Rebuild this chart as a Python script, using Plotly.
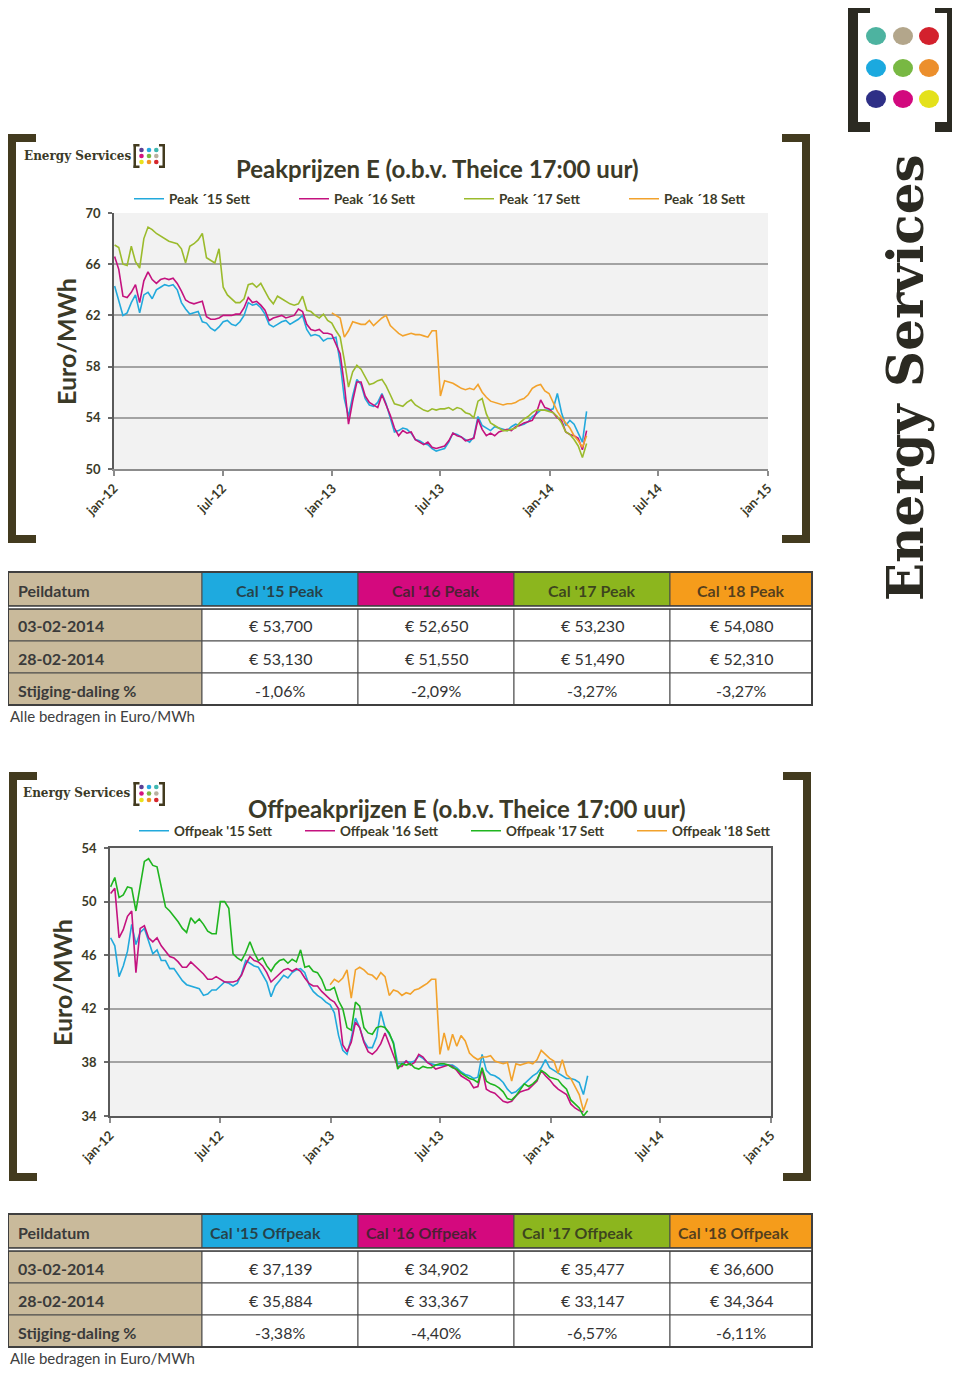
import pandas as pd
import plotly.graph_objects as go

# the page shows the figure with an 8 px body margin, so the figure is 8 px
# smaller and positions are measured from the page's top-left corner
OFF = 8
W, H = 960 - OFF, 1373 - OFF


def px(x):
    return (x - OFF) / W


def py(y):
    return 1 - (y - OFF) / H


# ---------------- DATA ----------------
# weekly settlement prices (Euro/MWh)
PEAK_START = "2012-01-02"
PEAK18_START = "2012-12-31"

peak15 = [
    64.3, 63.2, 62.0, 62.2, 63.0, 63.6, 62.2, 63.6, 63.8, 63.3,
    64.0, 64.2, 64.4, 64.3, 64.4, 64.0, 63.0, 62.5, 62.1, 62.2,
    62.3, 61.5, 61.4, 61.0, 60.8, 61.1, 61.5, 61.6, 61.3, 61.2,
    61.5, 62.0, 63.0, 62.8, 62.9, 62.6, 62.1, 61.3, 61.1, 61.3,
    61.5, 61.6, 61.3, 61.5, 61.7, 62.0, 60.9, 60.4, 60.5, 60.4,
    60.0, 60.2, 60.2, 60.3, 58.3, 55.5, 54.1, 55.7, 57.0, 56.6,
    55.5, 55.0, 54.9, 55.2, 55.9, 55.1, 54.0, 52.9, 53.0, 53.2,
    53.1, 52.8, 52.3, 52.2, 52.0, 51.9, 51.6, 51.4, 51.5, 51.6,
    52.1, 52.8, 52.7, 52.5, 52.3, 52.1, 52.5, 54.1, 53.4, 53.2,
    53.0, 53.3, 53.2, 53.1, 53.0, 53.3, 53.5, 53.4, 53.5, 53.7,
    54.1, 54.3, 54.6, 54.6, 54.6, 54.7, 55.9, 54.4, 53.4, 53.8,
    53.5, 52.8, 52.1, 54.5,
]
peak16 = [
    66.6, 65.6, 63.5, 63.4, 63.8, 64.4, 63.0, 64.7, 65.4, 64.8,
    64.5, 64.8, 64.9, 64.8, 64.9, 64.5, 63.9, 63.2, 63.0, 62.9,
    63.0, 63.1, 61.9, 61.7, 61.7, 61.8, 62.0, 62.0, 62.0, 62.1,
    62.1, 62.6, 63.4, 63.0, 63.1, 62.8, 62.4, 61.6, 61.8, 61.9,
    62.0, 61.8, 61.9, 62.0, 62.5, 62.3, 61.3, 60.9, 60.8, 60.9,
    60.6, 60.6, 60.5, 59.7, 59.0, 56.6, 53.5, 55.3, 56.8, 56.8,
    55.7, 55.2, 55.0, 54.8, 55.8, 55.0, 54.2, 53.2, 52.6, 53.0,
    52.8, 52.9, 52.3, 52.1, 51.9, 52.1, 51.7, 51.6, 51.7, 51.8,
    52.2, 52.8, 52.6, 52.5, 52.2, 52.3, 52.4, 53.9, 53.1, 52.6,
    52.8, 52.6, 52.9, 53.0, 53.1, 53.0, 53.3, 53.4, 53.6, 53.7,
    53.8, 54.4, 55.4, 54.8, 54.7, 54.4, 54.0, 53.8, 52.9, 52.7,
    52.6, 52.4, 51.5, 53.0,
]
peak17 = [
    67.5, 67.3, 66.0, 65.9, 67.4, 66.2, 65.7, 68.0, 68.9, 68.7,
    68.4, 68.2, 68.0, 67.8, 67.7, 67.6, 67.2, 66.1, 67.4, 67.6,
    67.9, 68.4, 66.5, 66.3, 66.1, 67.2, 64.2, 63.6, 63.3, 63.0,
    63.0, 63.3, 64.4, 64.5, 64.2, 64.5, 63.9, 63.3, 62.9, 63.5,
    63.3, 63.1, 62.9, 62.8, 62.9, 63.5, 62.4, 62.3, 62.0, 61.8,
    62.1, 61.6, 61.4, 60.8, 60.3, 58.5, 56.4, 57.6, 58.1, 57.8,
    57.2, 56.6, 56.7, 56.9, 57.0, 56.5, 55.8, 55.1, 55.0, 54.9,
    55.2, 55.4, 55.0, 54.8, 54.6, 54.5, 54.7, 54.6, 54.7, 54.7,
    54.8, 54.6, 54.8, 54.7, 54.4, 54.3, 54.0, 55.3, 55.5, 54.3,
    53.6, 53.4, 53.2, 53.0, 53.0, 53.1, 53.2, 53.6, 53.9, 54.1,
    54.4, 54.6, 54.6, 54.6, 54.5, 54.4, 54.1, 53.6, 52.9, 52.7,
    52.3, 51.8, 50.9, 52.0,
]
peak18 = [
    62.2, 62.0, 61.8, 60.3, 60.8, 61.5, 61.4, 61.3,
    61.3, 61.6, 61.2, 61.5, 61.8, 62.0, 61.2, 60.9, 60.6, 60.4,
    60.5, 60.6, 60.5, 60.5, 60.4, 60.3, 60.8, 60.8, 55.7, 56.9,
    56.8, 56.7, 56.5, 56.3, 56.2, 56.3, 56.2, 56.6, 56.0, 55.6,
    55.3, 55.2, 55.1, 55.0, 55.1, 55.1, 55.2, 55.4, 55.5, 55.8,
    56.3, 56.5, 56.6, 56.1, 55.9, 55.2, 54.5, 54.0, 53.6, 53.2,
    52.6, 52.2, 51.7, 52.6,
]

off15 = [
    47.3, 46.7, 44.4, 45.2, 46.3, 48.3, 46.8, 47.7, 48.0, 47.0,
    46.1, 46.4, 45.6, 45.6, 45.0, 45.0, 44.5, 44.1, 43.8, 43.7,
    43.6, 43.5, 43.0, 43.1, 43.4, 43.4, 43.7, 44.0, 43.9, 43.7,
    43.9, 44.6, 45.6, 45.4, 45.2, 45.1, 44.6, 44.0, 42.9, 43.7,
    44.1, 44.5, 44.3, 44.7, 44.9, 45.0, 44.7, 43.8, 43.3, 43.0,
    42.8, 42.5, 42.3, 41.7, 40.0, 38.9, 38.6, 39.8, 41.3, 40.6,
    39.6, 39.1, 39.1, 39.9, 41.8, 40.6, 40.1, 39.5, 37.9, 37.9,
    38.1, 38.0, 38.1, 38.5, 38.3, 38.0, 37.9, 37.8, 37.8, 37.8,
    37.8, 37.8, 37.6, 37.3, 37.1, 37.0, 36.8, 36.9, 38.6, 37.4,
    37.1, 37.0, 36.8, 36.5, 36.0, 35.7, 35.8, 36.1, 36.4, 36.7,
    37.0, 37.2, 37.6, 38.2, 37.6, 37.4, 37.2, 37.0, 36.8, 36.8,
    36.7, 36.5, 35.6, 37.0,
]
off16 = [
    50.6, 51.0, 47.3, 47.9, 48.9, 49.3, 44.7, 48.0, 48.2, 47.3,
    47.0, 47.3, 46.7, 46.3, 45.9, 45.8, 45.5, 45.1, 45.1, 45.5,
    45.2, 44.9, 44.6, 44.2, 44.2, 44.4, 44.2, 44.0, 44.0, 44.0,
    44.1, 44.5, 45.3, 45.9, 45.6, 45.5, 45.2, 44.7, 44.0, 44.3,
    44.6, 44.9, 45.0, 44.8, 45.0, 44.8, 44.3, 43.9, 43.7, 43.7,
    43.3, 43.0, 42.7, 42.5, 42.0, 39.3, 38.8, 39.5, 41.0, 40.6,
    39.5, 38.8, 38.6, 38.9, 39.4, 40.2, 39.4, 38.6, 37.7, 37.7,
    38.1, 37.8, 38.0, 38.6, 38.4, 38.0, 37.8, 37.5, 37.6, 37.7,
    37.8, 37.7, 37.4, 37.0, 36.8, 36.6, 36.1, 36.2, 37.5, 36.0,
    35.8, 35.7, 35.4, 35.1, 35.0, 35.1, 35.5, 35.8, 35.9, 36.0,
    36.3, 36.6, 37.4, 37.0, 36.7, 36.3, 36.0, 35.8, 35.6, 34.9,
    34.6, 34.4, 34.3,
]
off17 = [
    51.1, 51.8, 50.3, 50.5, 51.1, 51.0, 49.3, 51.0, 53.0, 53.2,
    52.7, 52.6, 51.0, 49.6, 49.3, 48.9, 48.5, 48.0, 47.7, 48.8,
    48.4, 48.7, 48.3, 47.8, 47.6, 47.6, 50.0, 50.0, 49.5, 46.1,
    45.8, 45.6, 46.2, 47.0, 46.2, 45.6, 45.8, 45.2, 44.8, 45.3,
    45.6, 45.7, 45.4, 45.7, 45.5, 46.4, 45.1, 45.2, 44.8, 44.7,
    44.2, 43.4, 43.4, 43.6, 42.6, 42.0, 40.6, 40.4, 42.5, 42.2,
    40.6, 40.2, 40.1, 40.6, 40.7, 40.6, 40.2, 39.4, 37.5, 37.9,
    37.8, 37.9, 37.6, 37.5, 37.7, 37.6, 37.6, 37.8, 37.9, 37.9,
    37.8, 37.6, 37.5, 37.2, 37.0, 36.8, 36.7, 36.5, 37.6, 36.6,
    36.4, 36.3, 36.1, 35.8, 35.3, 35.2, 35.5, 36.0, 36.4, 36.2,
    36.4, 36.7, 37.4, 37.2, 36.9, 36.8, 36.7, 36.3, 36.0, 35.2,
    34.9, 34.6, 34.0, 34.4,
]
off18 = [
    43.8, 44.2, 44.0, 44.3, 44.9, 42.8, 44.9, 45.1,
    44.9, 44.6, 44.5, 44.2, 44.7, 44.4, 43.0, 43.4, 43.3, 43.0,
    43.2, 43.1, 43.4, 43.5, 43.7, 43.9, 44.2, 44.2, 38.6, 40.2,
    38.9, 40.1, 39.2, 40.0, 39.6, 38.7, 38.4, 38.2, 38.4, 38.4,
    38.5, 38.1, 38.0, 37.9, 38.0, 36.6, 37.9, 37.8, 37.9, 38.0,
    37.9, 38.2, 38.9, 38.6, 38.3, 38.1, 37.2, 38.2, 37.1, 36.8,
    36.2, 35.6, 34.4, 35.3,
]

peak_names = ["Peak ´15 Sett", "Peak ´16 Sett", "Peak ´17 Sett", "Peak ´18 Sett"]
off_names = ["Offpeak '15 Sett", "Offpeak '16 Sett", "Offpeak '17 Sett", "Offpeak '18 Sett"]

x_tick_dates = ["2012-01-01", "2012-07-01", "2013-01-01", "2013-07-01",
                "2014-01-01", "2014-07-01", "2015-01-01"]
x_tick_labels = ["jan-12", "jul-12", "jan-13", "jul-13", "jan-14", "jul-14", "jan-15"]
peak_y_ticks = [50, 54, 58, 62, 66, 70]
off_y_ticks = [34, 38, 42, 46, 50, 54]

table_rows = ["03-02-2014", "28-02-2014", "Stijging-daling %"]
peak_headers = ["Cal '15 Peak", "Cal '16 Peak", "Cal '17 Peak", "Cal '18 Peak"]
peak_row1 = ["€ 53,700", "€ 52,650", "€ 53,230", "€ 54,080"]
peak_row2 = ["€ 53,130", "€ 51,550", "€ 51,490", "€ 52,310"]
peak_row3 = ["-1,06%", "-2,09%", "-3,27%", "-3,27%"]
off_headers = ["Cal '15 Offpeak", "Cal '16 Offpeak", "Cal '17 Offpeak", "Cal '18 Offpeak"]
off_row1 = ["€ 37,139", "€ 34,902", "€ 35,477", "€ 36,600"]
off_row2 = ["€ 35,884", "€ 33,367", "€ 33,147", "€ 34,364"]
off_row3 = ["-3,38%", "-4,40%", "-6,57%", "-6,11%"]

# ---------------- STYLE ----------------
DARK = "#3b3a28"
BRACKET = "#433b1f"
peak_colors = ["#22a9dc", "#c4127f", "#9bbb2c", "#f2a22c"]
off_colors = ["#22a9dc", "#c4127f", "#1fb51f", "#f2a22c"]
header_fills = ["#1eaadf", "#d4097e", "#8cb61e", "#f59c1b"]
TAN = "#c9ba9b"
FONT = "Lato"

fig = go.Figure()

peak_data = [(peak15, PEAK_START), (peak16, PEAK_START), (peak17, PEAK_START), (peak18, PEAK18_START)]
for (vals, start), name, color in zip(peak_data, peak_names, peak_colors):
    fig.add_trace(go.Scatter(
        x=pd.date_range(start, periods=len(vals), freq="7D"), y=vals, name=name,
        mode="lines", line=dict(color=color, width=1.6), xaxis="x", yaxis="y",
        legend="legend", hoverinfo="skip"))

off_data = [(off15, PEAK_START), (off16, PEAK_START), (off17, PEAK_START), (off18, PEAK18_START)]
for (vals, start), name, color in zip(off_data, off_names, off_colors):
    fig.add_trace(go.Scatter(
        x=pd.date_range(start, periods=len(vals), freq="7D"), y=vals, name=name,
        mode="lines", line=dict(color=color, width=1.6), xaxis="x2", yaxis="y2",
        legend="legend2", hoverinfo="skip"))

tickfont = dict(family=FONT, size=13, color=DARK, weight="bold")


def xaxis_cfg(x0, x1, anchor, mirror):
    return dict(domain=[px(x0), px(x1)], anchor=anchor, type="date",
                range=["2012-01-01", "2015-01-01"], tickvals=x_tick_dates,
                ticktext=x_tick_labels, tickangle=-45, ticks="outside", ticklen=5,
                tickcolor="#8c8c8c", tickwidth=1.5, showline=True,
                linecolor="#5a5a5a" if mirror else "#8c8c8c", linewidth=1.5,
                mirror=mirror, showgrid=False, zeroline=False, tickfont=tickfont,
                automargin=False)


def yaxis_cfg(y_top, y_bot, anchor, rng, ticks, mirror):
    return dict(domain=[py(y_bot), py(y_top)], anchor=anchor, range=rng, tickvals=ticks,
                ticks="outside", ticklen=4, tickcolor="#6a6a6a", tickwidth=1.5,
                showline=True, linecolor="#5a5a5a", linewidth=1.5, mirror=mirror,
                showgrid=True, gridcolor="#a3a3a3", gridwidth=1.5, zeroline=False,
                tickfont=tickfont, automargin=False, ticklabelstandoff=5)


legend_font = dict(family=FONT, size=13.5, color=DARK, weight="bold")

fig.update_layout(
    width=W, height=H, margin=dict(l=0, r=0, t=0, b=0, autoexpand=False),
    paper_bgcolor="white", plot_bgcolor="#f2f2f2",
    xaxis=xaxis_cfg(114, 768, "y", False),
    yaxis=yaxis_cfg(213, 469, "x", [50, 70], peak_y_ticks, False),
    xaxis2=xaxis_cfg(110, 771, "y2", True),
    yaxis2=yaxis_cfg(848, 1116, "x2", [34, 54], off_y_ticks, True),
    legend=dict(orientation="h", x=px(129), y=py(199), xanchor="left", yanchor="middle",
                entrywidth=120, entrywidthmode="pixels", font=legend_font,
                bgcolor="rgba(0,0,0,0)", itemclick=False),
    legend2=dict(orientation="h", x=px(134), y=py(831), xanchor="left", yanchor="middle",
                 entrywidth=121, entrywidthmode="pixels", font=legend_font,
                 bgcolor="rgba(0,0,0,0)", itemclick=False),
)

shapes = []
annotations = []


def rect(x0, y0, x1, y1, fill, line_color=None, lw=0):
    shapes.append(dict(type="rect", xref="paper", yref="paper",
                       x0=px(x0), x1=px(x1), y0=py(y1), y1=py(y0),
                       fillcolor=fill, line=dict(color=line_color or fill, width=lw),
                       layer="above"))


def text(x, y, s, size, color=DARK, bold=False, family=FONT, xanchor="center",
         yanchor="middle", angle=0):
    annotations.append(dict(xref="paper", yref="paper", x=px(x), y=py(y), text=s,
                            showarrow=False, xanchor=xanchor, yanchor=yanchor,
                            textangle=angle,
                            font=dict(family=family, size=size, color=color,
                                      weight="bold" if bold else "normal")))


def bracket_pair(left, right, top, bot, t, arm):
    rect(left, top, left + t, bot, BRACKET)
    rect(left, top, left + arm, top + t, BRACKET)
    rect(left, bot - t, left + arm, bot, BRACKET)
    rect(right - t, top, right, bot, BRACKET)
    rect(right - arm, top, right, top + t, BRACKET)
    rect(right - arm, bot - t, right, bot, BRACKET)


def dot(cx, cy, rx, ry, color):
    shapes.append(dict(type="circle", xref="paper", yref="paper",
                       x0=px(cx - rx), x1=px(cx + rx), y0=py(cy + ry), y1=py(cy - ry),
                       fillcolor=color, line=dict(width=0), layer="above"))


small_dot_colors = [["#5b3f95", "#26a9e0", "#3fb8b0"],
                    ["#d4127e", "#7ab843", "#b9b1a0"],
                    ["#e9e21c", "#f39324", "#d6262c"]]


def small_logo(x_text, y_text, x0, y0, y1, dot_xs, dot_ys):
    text(x_text, y_text, "Energy Services", 12, color=DARK, bold=True,
         family="DejaVu Serif", xanchor="left")
    rect(x0, y0, x0 + 2.5, y1, BRACKET)
    rect(x0, y0, x0 + 6, y0 + 2.5, BRACKET)
    rect(x0, y1 - 2.5, x0 + 6, y1, BRACKET)
    rect(x0 + 29, y0, x0 + 31.5, y1, BRACKET)
    rect(x0 + 25.5, y0, x0 + 31.5, y0 + 2.5, BRACKET)
    rect(x0 + 25.5, y1 - 2.5, x0 + 31.5, y1, BRACKET)
    for r, yy in enumerate(dot_ys):
        for c, xx in enumerate(dot_xs):
            dot(xx, yy, 2.3, 2.3, small_dot_colors[r][c])


# ---- chart 1 decorations ----
bracket_pair(8, 810, 134, 543, 8, 28)
small_logo(22, 156, 133.5, 144, 168, [141.5, 149, 156.3], [150, 156, 162])
text(437, 168, "Peakprijzen E (o.b.v. Theice 17:00 uur)", 24, bold=True)
text(66, 342, "Euro/MWh", 25, bold=True, angle=-90)

# ---- chart 2 decorations ----
bracket_pair(9, 811, 772, 1181, 8, 28)
small_logo(21, 793, 133.5, 782, 806, [141.5, 149, 156.3], [787, 793.5, 800])
text(467, 808, "Offpeakprijzen E (o.b.v. Theice 17:00 uur)", 24, bold=True)
text(62, 983, "Euro/MWh", 25, bold=True, angle=-90)

# ---- big logo top-right ----
rect(848, 3, 858, 132, "#2b2a22")
rect(848, 3, 870, 13, "#2b2a22")
rect(848, 122, 870, 132, "#2b2a22")
rect(947, 3, 957, 132, "#2b2a22")
rect(935, 3, 957, 13, "#2b2a22")
rect(935, 122, 957, 132, "#2b2a22")
big_dot_colors = [["#4db3a0", "#b3a68b", "#d3212d"],
                  ["#1ba9df", "#78b843", "#ec8f2c"],
                  ["#2e2f86", "#d2097e", "#e4e11b"]]
for r, yy in enumerate([36, 68, 99]):
    for c, xx in enumerate([876, 903, 929]):
        dot(xx, yy, 10, 9, big_dot_colors[r][c])
text(906, 378, "Energy Services", 50, color="#2b2a22", bold=True,
     family="DejaVu Serif", angle=-90)


# ---- tables ----
col_edges = [8, 202, 358, 514, 670, 812]
HEADER_TXT = "rgba(40,38,30,0.78)"


def draw_table(top, headers, rows_vals, header_align):
    h_top, h_bot = top, top + 34
    r_edges = [top + 37, top + 69, top + 101, top + 133]
    rect(col_edges[0], h_top, col_edges[1], h_bot, TAN, "#4a4a4a", 1)
    text(16, (h_top + h_bot) / 2 + 1, "Peildatum", 16, color="#3a3a3a", bold=True,
         xanchor="left")
    for i, lab in enumerate(headers):
        x0, x1 = col_edges[i + 1], col_edges[i + 2]
        rect(x0, h_top, x1, h_bot, header_fills[i], "#4a4a4a", 1)
        if header_align == "center":
            text((x0 + x1) / 2, (h_top + h_bot) / 2 + 1, lab, 16, color=HEADER_TXT, bold=True)
        else:
            text(x0 + 6, (h_top + h_bot) / 2 + 1, lab, 16, color=HEADER_TXT, bold=True,
                 xanchor="left")
    for r, (lab, vals) in enumerate(zip(table_rows, rows_vals)):
        y0, y1 = r_edges[r], r_edges[r + 1]
        rect(col_edges[0], y0, col_edges[1], y1, TAN, "#4a4a4a", 1)
        text(16, (y0 + y1) / 2 + 1, lab, 16, color="#3a3a3a", bold=True, xanchor="left")
        for i, v in enumerate(vals):
            x0, x1 = col_edges[i + 1], col_edges[i + 2]
            rect(x0, y0, x1, y1, "white", "#4a4a4a", 1)
            text((x0 + x1) / 2, (y0 + y1) / 2 + 1, v, 16, color="#333333")
    shapes.append(dict(type="rect", xref="paper", yref="paper",
                       x0=px(col_edges[0]), x1=px(col_edges[-1]),
                       y0=py(r_edges[-1]), y1=py(h_top), fillcolor="rgba(0,0,0,0)",
                       line=dict(color="#3f3f3f", width=2), layer="above"))
    shapes.append(dict(type="rect", xref="paper", yref="paper",
                       x0=px(col_edges[0]), x1=px(col_edges[-1]),
                       y0=py(r_edges[0]), y1=py(h_bot), fillcolor="white",
                       line=dict(color="#3f3f3f", width=1.5), layer="above"))
    text(8, r_edges[-1] + 11, "Alle bedragen in Euro/MWh", 15, color="#404040",
         xanchor="left")


draw_table(572, peak_headers, [peak_row1, peak_row2, peak_row3], "center")
draw_table(1214, off_headers, [off_row1, off_row2, off_row3], "left")

fig.update_layout(shapes=shapes, annotations=annotations)
fig.write_html("out.html")
